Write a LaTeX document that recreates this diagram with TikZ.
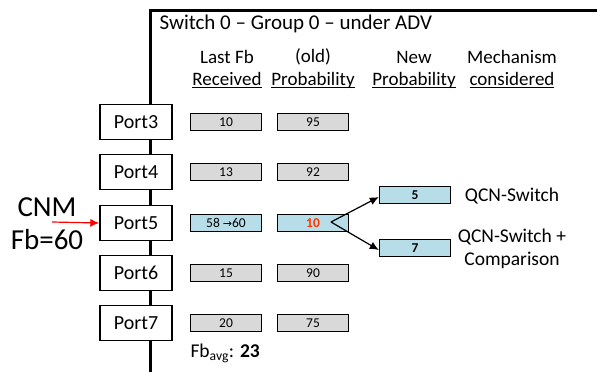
\documentclass[tikz,border=0pt]{standalone}
\usepackage{fontspec}
\setmainfont{Carlito}
\newfontfamily\symfont{DejaVu Sans}
\usetikzlibrary{arrows.meta}
\definecolor{boxgray}{RGB}{217,217,217}
\definecolor{boxblue}{RGB}{183,222,232}
\definecolor{hotred}{RGB}{255,51,0}
\newcommand{\ultext}[1]{\setbox0\hbox{#1}\rlap{\rule[-2.8pt]{\wd0}{1pt}}\box0}

\begin{document}
\begin{tikzpicture}[x=1pt,y=-1pt,
  port/.style={draw, line width=1.4pt, fill=white, minimum width=72pt, minimum height=35pt, inner sep=0pt, font=\fontsize{20}{22}\selectfont},
  val/.style={draw, line width=1.4pt, fill=boxgray, minimum width=71pt, minimum height=17pt, inner sep=0pt, font=\fontsize{13.5}{15}\selectfont},
  newval/.style={val, fill=boxblue},
  head/.style={font=\fontsize{19}{21}\selectfont},
  mech/.style={font=\fontsize{19.5}{23}\selectfont, align=center},
  ]
\useasboundingbox (0,0) rectangle (597,372);

% switch frame
\draw[line width=3pt] (150,372) -- (150,10) -- (597,10);
\node[anchor=west, font=\fontsize{21}{23}\selectfont] (title) at (156,24) {Switch 0 -- Group 0 -- under ADV};

% column heads
\node[head] (hlast) at (227,57) {Last Fb};
\node[head] (hrecv) at (227,80) {\ultext{Received}};
\node[head] (hold) at (313,57) {(old)};
\node[head] (hprob) at (313,80) {\ultext{Probability}};
\node[head] (hnew) at (414,57) {New};
\node[head] (hnprob) at (414,80) {\ultext{Probability}};
\node[head] (hmech) at (512,57) {Mechanism};
\node[head] (hcons) at (512,80) {\ultext{considered}};

% ports
\node[port] (p3) at (136,122) {Port3};
\node[port] (p4) at (136,172) {Port4};
\node[port] (p5) at (136,223) {Port5};
\node[port] (p6) at (136,273) {Port6};
\node[port] (p7) at (136,323) {Port7};

% last fb received
\node[val] (r3) at (226,122) {10};
\node[val] (r4) at (226,172) {13};
\node[newval] (r5) at (226,223) {58 {\symfont\fontsize{11}{12}\selectfont →}60};
\node[val] (r6) at (226,273) {15};
\node[val] (r7) at (226,323) {20};

% old probability
\node[val] (o3) at (313,122) {95};
\node[val] (o4) at (313,172) {92};
\node[newval] (o5) at (313,223) {\textcolor{hotred}{\textbf{10}}};
\node[val] (o6) at (313,273) {90};
\node[val] (o7) at (313,323) {75};

% new probability
\node[newval] (n5) at (415,195) {\textbf{5}};
\node[newval] (n7) at (415,248) {\textbf{7}};
\node[mech] (m5) at (512,196) {QCN-Switch};
\node[mech] (m7) at (512,249) {QCN-Switch +\\Comparison};

\coordinate (split) at (331,222);
\draw[line width=1.2pt, -{Latex[length=9pt,width=8pt]}] (split) -- ([yshift=-2pt]n5.west);
\draw[line width=1.2pt, -{Latex[length=9pt,width=8pt]}] (split) -- ([yshift=-2pt]n7.west);

% congestion message
\node[align=center, font=\fontsize{29}{33}\selectfont] (cnm) at (47,224) {CNM\\Fb=60};
\coordinate (cnmin) at (52,222);
\draw[red, line width=1.2pt, -{Latex[length=9pt,width=8pt]}] (cnmin) -- (p5.west);

\node[anchor=west, font=\fontsize{19.5}{21}\selectfont] (avg) at (187,353) {Fb\textsubscript{avg}: \textbf{23}};
\end{tikzpicture}
\end{document}
